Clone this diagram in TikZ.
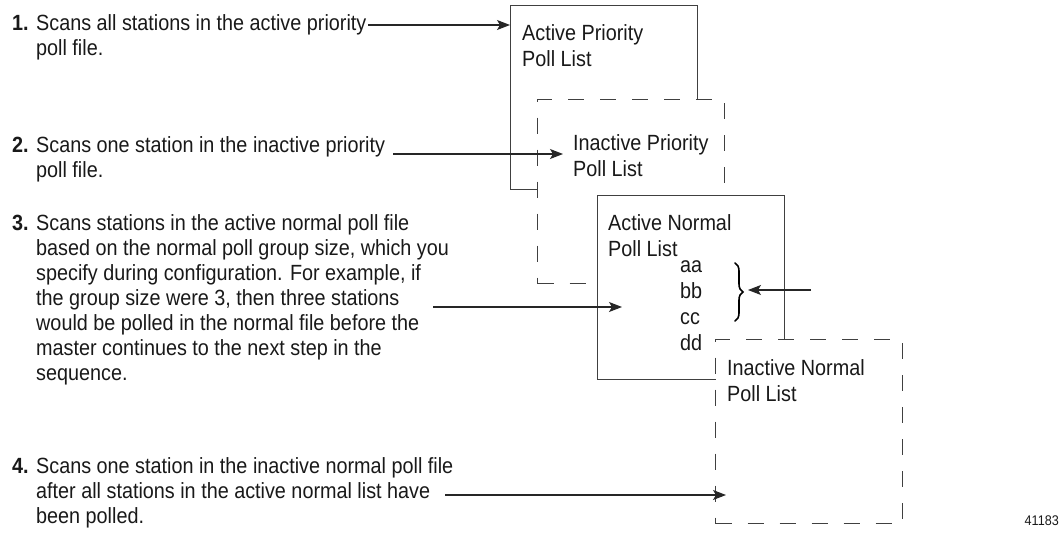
\documentclass[tikz,border=0pt]{standalone}
\usepackage{fontspec}
\setmainfont{Liberation Sans}[FakeStretch=0.9]
\usetikzlibrary{arrows.meta,decorations.pathreplacing}

% left-aligned rows whose baseline is the first row's baseline
\newcommand\textrows[1]{\begin{tabular}[t]{@{}l@{}}#1\end{tabular}}

\begin{document}
\begin{tikzpicture}[x=1pt,y=1pt,
  txt/.style={font=\fontsize{22}{25}\selectfont, inner sep=0pt, anchor=base west, text=black!90},
  num/.style={font=\fontsize{22}{25}\selectfont\bfseries, inner sep=0pt, anchor=base west, text=black!90},
  lbl/.style={font=\fontsize{22}{26.5}\selectfont, inner sep=0pt, anchor=base west, text=black!90},
  listbox/.style={draw=black!75, fill=white, line width=1.1pt, minimum width=187pt, minimum height=184pt, anchor=north west, inner sep=0pt},
  dashbox/.style={listbox, dash pattern=on 16pt off 16pt},
  ptr/.style={draw=black!85, line width=1.1pt, -{Stealth[length=13pt,width=10pt,inset=3pt]}}
]
\useasboundingbox (0,0) rectangle (1063,-539);

% the four poll lists, stacked back to front
\node[listbox] (ap) at (510,-5) {};
\node[lbl] (apl) at (522,-40) {\textrows{Active Priority\\Poll List}};
\node[dashbox] (ip) at (537,-99) {};
\node[lbl] (ipl) at (573,-150) {\textrows{Inactive Priority\\Poll List}};
\node[listbox] (an) at (597,-195) {};
\node[lbl] (anl) at (608,-230) {\textrows{Active Normal\\Poll List}};
\node[dashbox] (in) at (715,-339) {};
\node[lbl] (inl) at (727,-375) {\textrows{Inactive Normal\\Poll List}};

% stations of the normal group
\node[font=\fontsize{22}{26}\selectfont, inner sep=0pt, anchor=base west, text=black!90] (st) at (680,-272) {\textrows{aa\\bb\\cc\\dd}};
\draw[black, line width=1.6pt, line cap=round, decorate, decoration={brace, amplitude=8pt}] (735,-263) -- (735,-321);
\coordinate (br) at (748,-290);
\coordinate (brs) at (811,-290);

% numbered steps
\node[num] (n1) at (12,-30) {1.};
\node[txt] (t1) at (36,-30) {\textrows{Scans all stations in the active priority\\poll file.}};
\node[num] (n2) at (12,-152) {2.};
\node[txt] (t2) at (36,-152) {\textrows{Scans one station in the inactive priority\\poll file.}};
\node[num] (n3) at (12,-230) {3.};
\node[txt] (t3) at (36,-230) {\textrows{Scans stations in the active normal poll file\\based on the normal poll group size, which you\\specify during configuration. For example, if\\the group size were 3, then three stations\\would be polled in the normal file before the\\master continues to the next step in the\\sequence.}};
\node[num] (n4) at (12,-473) {4.};
\node[txt] (t4) at (36,-473) {\textrows{Scans one station in the inactive normal poll file\\after all stations in the active normal list have\\been polled.}};

\node[font=\fontsize{14}{16}\selectfont, inner sep=0pt, anchor=base east, text=black!90] (fig) at (1059,-525) {41183};

% pointers from the steps to the lists
\coordinate (s1) at (368,-25);
\coordinate (s2) at (393,-154);
\coordinate (e2) at (563,-154);
\coordinate (s3) at (433,-307);
\coordinate (e3) at (622,-307);
\coordinate (s4) at (445,-495);
\coordinate (e4) at (726,-495);
\draw[ptr] (s1) -- (s1 -| ap.west);
\draw[ptr] (s2) -- (e2);
\draw[ptr] (s3) -- (e3);
\draw[ptr] (s4) -- (e4);
\draw[ptr] (brs) -- (br);
\end{tikzpicture}
\end{document}
